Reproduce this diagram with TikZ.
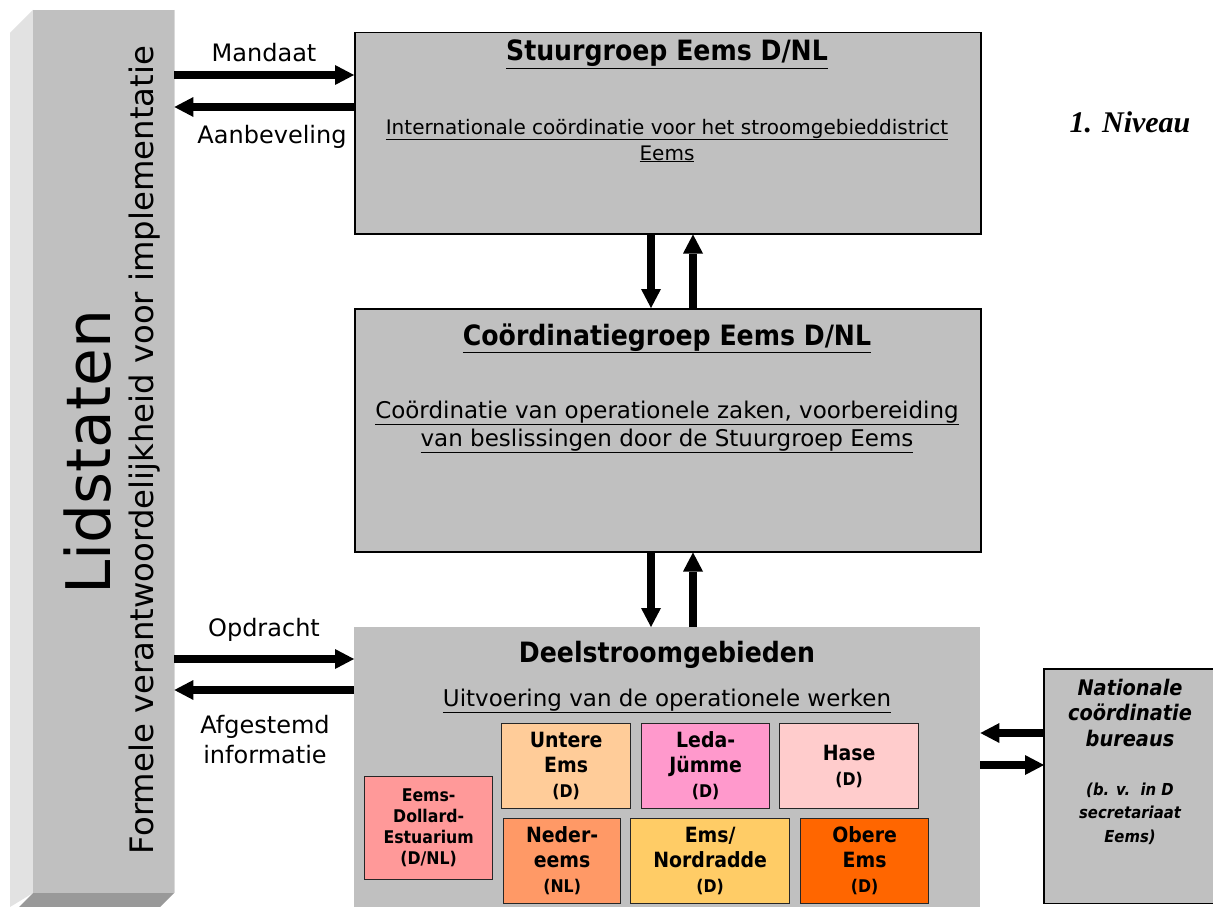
\documentclass[tikz,border=0pt]{standalone}
\usepackage{fontspec}
\setmainfont{DejaVu Sans}
\newfontfamily\cond[FakeStretch=0.9]{DejaVu Sans}
\newfontfamily\tnr{Liberation Serif}
\usetikzlibrary{arrows.meta}
\definecolor{boxgray}{HTML}{C0C0C0}
\definecolor{sideL}{HTML}{E2E2E2}
\definecolor{sideB}{HTML}{999999}
\definecolor{cEDE}{HTML}{FF9999}
\definecolor{cUnt}{HTML}{FFCC99}
\definecolor{cLed}{HTML}{FF99CC}
\definecolor{cHas}{HTML}{FFCCCC}
\definecolor{cNed}{HTML}{FF9966}
\definecolor{cNor}{HTML}{FFCC66}
\definecolor{cObe}{HTML}{FF6600}
\newcommand{\fsz}[2]{\fontsize{#1}{#2}\selectfont}
\begin{document}
\begin{tikzpicture}[x=1pt,y=-1pt,
  arr/.style={line width=7.5pt,-{Triangle[length=19pt,width=20pt,line width=0pt]}},
  bigbox/.style={draw=black, line width=1.5pt, fill=boxgray, inner sep=0pt, anchor=north west},
  sub/.style={draw=black!85, line width=1.3pt, inner sep=0pt, align=center, anchor=north west, font=\cond\bfseries\fsz{21}{25}},
  lab/.style={font=\fsz{24}{30}, align=center, inner sep=0pt, anchor=base}
]
\useasboundingbox (0,0) rectangle (1213,907);
\fill[white] (0,0) rectangle (1213,907);

% Lidstaten bar (3D)
\fill[sideL] (10,33) -- (33,10) -- (33,893) -- (10,907) -- cycle;
\fill[sideB] (33,893) -- (174,893) -- (160,907) -- (19,907) -- cycle;
\node[fill=boxgray, inner sep=0pt, minimum width=141pt, minimum height=883pt, anchor=north west] (lid) at (33,10) {};
\draw[white!85!black, line width=1pt] (lid.north east) -- (lid.south east);
\node[rotate=90, anchor=base, inner sep=0pt, font=\fsz{61.5}{70}] (lidt) at (110,452) {Lidstaten};
\node[rotate=90, anchor=base, inner sep=0pt, font=\fsz{32.3}{38}] (form) at (153,450) {Formele verantwoordelijkheid voor implementatie};

% main boxes
\node[bigbox, minimum width=626pt, minimum height=201pt] (stuur) at (354,32) {};
\node[bigbox, minimum width=626pt, minimum height=243pt] (coord) at (354,308) {};
\node[fill=boxgray, inner sep=0pt, minimum width=626pt, minimum height=280pt, anchor=north west] (deel) at (354,627) {};
\node[fill=boxgray, inner sep=0pt, minimum width=169pt, minimum height=234pt, anchor=north west] (nat) at (1044,669) {};
\draw[black, line width=1.5pt] (nat.north east) -- (nat.north west) -- (nat.south west) -- (nat.south east);

% box texts
\node[anchor=base, inner sep=0pt, font=\cond\bfseries\fsz{28}{34}] (stuurT) at (667,61) {\underline{Stuurgroep Eems D/NL}};
\node[anchor=base, inner sep=0pt, align=center, font=\fsz{20}{26}] (stuurB) at (667,160) {\underline{Internationale coördinatie voor het stroomgebieddistrict}\\\underline{Eems}};
\node[anchor=base, inner sep=0pt, font=\cond\bfseries\fsz{28}{34}] (coordT) at (667,345) {\underline{Coördinatiegroep Eems D/NL}};
\node[anchor=base, inner sep=0pt, align=center, font=\fsz{23}{28}] (coordB) at (667,446) {\underline{Coördinatie van operationele zaken, voorbereiding}\\\underline{van beslissingen door de Stuurgroep Eems}};
\node[anchor=base, inner sep=0pt, font=\cond\bfseries\fsz{28}{34}] (deelT) at (667,662) {Deelstroomgebieden};
\node[anchor=base, inner sep=0pt, font=\fsz{23}{28}] (deelB) at (667,706) {\underline{Uitvoering van de operationele werken}};

% sub-areas
\node[sub, fill=cEDE, minimum width=128pt, minimum height=103pt, font=\cond\bfseries\fsz{17.5}{21}] (ede) at (364,776) {Eems-\\Dollard-\\Estuarium\\(D/NL)};
\node[sub, fill=cUnt, minimum width=129pt, minimum height=85pt] (unt) at (501,723) {Untere\\Ems\\{\fsz{17.5}{21}(D)}};
\node[sub, fill=cLed, minimum width=128pt, minimum height=85pt] (led) at (641,723) {Leda-\\Jümme\\{\fsz{17.5}{21}(D)}};
\node[sub, fill=cHas, minimum width=139pt, minimum height=85pt] (has) at (779,723) {Hase\\{\fsz{17.5}{25}(D)}};
\node[sub, fill=cNed, minimum width=117pt, minimum height=85pt] (ned) at (503,818) {Neder-\\eems\\{\fsz{17.5}{21}(NL)}};
\node[sub, fill=cNor, minimum width=159pt, minimum height=85pt] (nor) at (630,818) {Ems/\\Nordradde\\{\fsz{17.5}{21}(D)}};
\node[sub, fill=cObe, minimum width=128pt, minimum height=85pt] (obe) at (800,818) {Obere\\Ems\\{\fsz{17.5}{21}(D)}};

% nationale texts
\node[anchor=base, inner sep=0pt, align=center, font=\cond\bfseries\itshape\fsz{21.5}{25.5}] (natT) at (1130,746) {Nationale\\coördinatie\\bureaus};
\node[anchor=base, inner sep=0pt, align=center, font=\cond\bfseries\itshape\fsz{16.5}{23.5}] (natS) at (1130,842) {(b. v.\ \ in D\\secretariaat\\Eems)};

% level label
\node[anchor=base, inner sep=0pt, font=\tnr\bfseries\itshape\fsz{30}{36}] (niv) at (1130,132) {1. Niveau};

% labels
\node[lab] (mand) at (264,62) {Mandaat};
\node[lab] (aanb) at (272,143) {Aanbeveling};
\node[lab] (opdr) at (264,636) {Opdracht};
\node[lab] (afg) at (265,763) {Afgestemd\\informatie};

% arrows
\draw[arr] (lid.east |- 0,75) -- (stuur.west |- 0,75);
\draw[arr] (stuur.west |- 0,107) -- (lid.east |- 0,107);
\draw[arr] (lid.east |- 0,659) -- (deel.west |- 0,659);
\draw[arr] (deel.west |- 0,690) -- (lid.east |- 0,690);
\draw[arr] (stuur.south -| 651,0) -- (coord.north -| 651,0);
\draw[arr] (coord.north -| 693,0) -- (stuur.south -| 693,0);
\draw[arr] (coord.south -| 651,0) -- (deel.north -| 651,0);
\draw[arr] (deel.north -| 693,0) -- (coord.south -| 693,0);
\draw[arr] (nat.west |- 0,733) -- (deel.east |- 0,733);
\draw[arr] (deel.east |- 0,765) -- (nat.west |- 0,765);
\end{tikzpicture}
\end{document}
